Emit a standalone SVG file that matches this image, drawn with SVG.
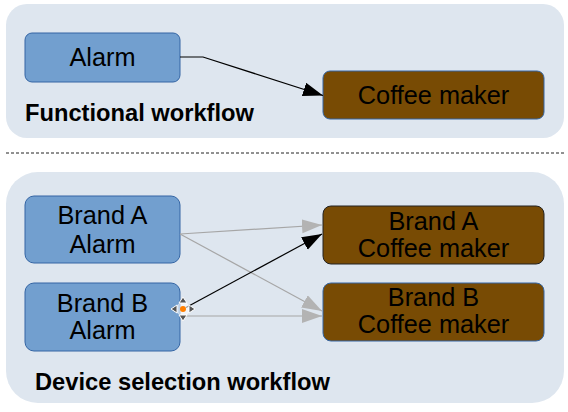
<svg xmlns="http://www.w3.org/2000/svg" width="568" height="412" viewBox="0 0 568 412">
<defs>
<style>
.panel{fill:#dee6ef;stroke:none}
.alarm{fill:#729fcf;stroke:#3465a4;stroke-width:1}
.coffee{fill:#784b04;stroke:#3465a4;stroke-width:1}
.coffee.sel{stroke:#222}
.lbl{font-family:"Liberation Sans",Arial,sans-serif;font-size:25.3px;fill:#000;text-anchor:middle}
.title{font-family:"Liberation Sans",Arial,sans-serif;font-size:23.7px;font-weight:bold;fill:#000}
.blk{stroke:#000;stroke-width:1.2;fill:none}
.gry{stroke:#a6a6a6;stroke-width:1.2;fill:none}
</style>
<marker id="ab" markerUnits="userSpaceOnUse" markerWidth="21" markerHeight="15" refX="20" refY="7" orient="auto" viewBox="0 0 21 15">
<path d="M0,0 L20,7 L0,14 z" fill="#000"/>
</marker>
<marker id="ag" markerUnits="userSpaceOnUse" markerWidth="21" markerHeight="15" refX="20" refY="7" orient="auto" viewBox="0 0 21 15">
<path d="M0,0 L20,7 L0,14 z" fill="#b3b3b3"/>
</marker>
</defs>
<rect width="568" height="412" fill="#fff"/>
<g id="panel-functional">
<rect class="panel" x="6" y="4" width="558" height="134" rx="21"/>
<text class="title" x="25" y="121">Functional workflow</text>
</g>
<line x1="6" y1="153" x2="564" y2="153" stroke="#222" stroke-width="1" stroke-dasharray="3,2"/>
<g id="panel-device">
<rect class="panel" x="6" y="172" width="558" height="231" rx="32"/>
<text class="title" x="35" y="390">Device selection workflow</text>
</g>
<g id="alarm">
<rect class="alarm" x="25" y="33" width="155" height="49" rx="7"/>
<text class="lbl" x="102.5" y="66">Alarm</text>
</g>
<g id="coffee-maker">
<rect class="coffee" x="323" y="71" width="221" height="48" rx="7"/>
<text class="lbl" x="433.5" y="104">Coffee maker</text>
</g>
<g id="brand-a-alarm">
<rect class="alarm" x="25" y="196" width="155" height="67" rx="9"/>
<text class="lbl" x="102.5" y="224">Brand A</text>
<text class="lbl" x="102.5" y="253">Alarm</text>
</g>
<g id="brand-b-alarm">
<rect class="alarm" x="25" y="283" width="155" height="68" rx="9"/>
<text class="lbl" x="102.5" y="312">Brand B</text>
<text class="lbl" x="102.5" y="339">Alarm</text>
</g>
<g id="brand-a-coffee">
<rect class="coffee sel" x="323" y="206" width="221" height="58" rx="8"/>
<text class="lbl" x="433.5" y="230">Brand A</text>
<text class="lbl" x="433.5" y="257">Coffee maker</text>
</g>
<g id="brand-b-coffee">
<rect class="coffee" x="323" y="283" width="221" height="58" rx="8"/>
<text class="lbl" x="433.5" y="306">Brand B</text>
<text class="lbl" x="433.5" y="333">Coffee maker</text>
</g>
<g id="connectors">
<polyline class="blk" points="180,57 203,57 323,95.5" marker-end="url(#ab)"/>
<line class="gry" x1="180" y1="234" x2="322" y2="225" marker-end="url(#ag)"/>
<line class="gry" x1="180" y1="234" x2="322" y2="311" marker-end="url(#ag)"/>
<line class="gry" x1="185" y1="316" x2="322" y2="316" marker-end="url(#ag)"/>
<line class="blk" x1="186" y1="307.5" x2="322" y2="234" marker-end="url(#ab)"/>
<g id="handle">
<circle cx="183" cy="309" r="7" fill="#fff" opacity="0.6"/>
<path d="M183,297 L179,303 L187,303 z M183,321 L179,315 L187,315 z M171,309 L177,305 L177,313 z M195,309 L189,305 L189,313 z" fill="#555" stroke="#fff" stroke-width="1" stroke-linejoin="round"/>
<circle cx="183" cy="309" r="3" fill="#ff7f00"/>
</g>
</g>
</svg>
